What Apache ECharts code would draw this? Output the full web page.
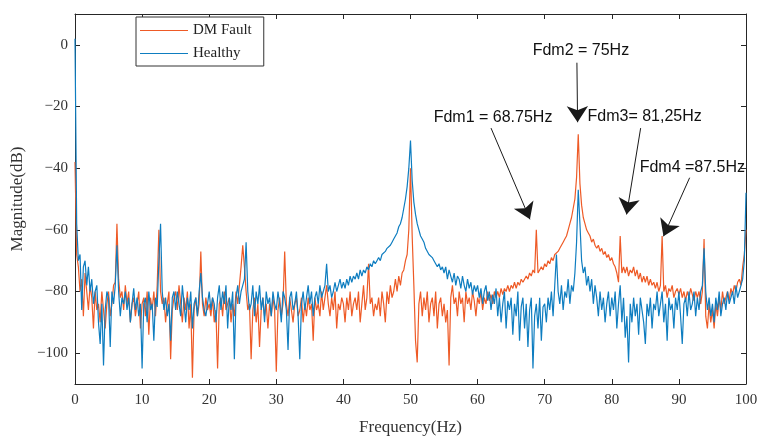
<!DOCTYPE html>
<html>
<head>
<meta charset="utf-8">
<script src="https://cdn.jsdelivr.net/npm/echarts@6/dist/echarts.min.js"></script>
<style>
  html, body { margin: 0; padding: 0; background: #fff; }
  #chart { width: 761px; height: 441px; }
</style>
</head>
<body>
<div id="chart"></div>
<script>
// frequency grid, 0.25 Hz steps from 0 to 100 Hz
var freqStep = 0.25;
var freq = [];
for (var i = 0; i <= 400; i++) freq.push(i * freqStep);

// magnitude (dB), 20 points (5 Hz) per row
var healthy = [
  2, -58, -70, -68, -86, -72, -70, -78, -72, -80, -76, -84, -80, -78, -90, -97, -84, -104, -86, -80,
  -82, -98, -80, -84, -78, -65, -80, -88, -82, -84, -80, -86, -82, -90, -84, -79, -86, -82, -88, -84,
  -105, -84, -82, -90, -80, -86, -84, -96, -82, -85, -70, -58, -80, -86, -82, -88, -84, -96, -82, -80,
  -86, -80, -84, -88, -78, -84, -90, -82, -86, -80, -92, -84, -82, -88, -80, -74, -82, -86, -88, -84,
  -80, -86, -82, -84, -90, -82, -78, -86, -80, -84, -78, -92, -82, -86, -80, -102, -82, -78, -84, -80,
  -78, -76, -64, -80, -86, -84, -78, -88, -80, -84, -78, -86, -82, -90, -80, -84, -82, -88, -80, -84,
  -86, -80, -84, -90, -80, -82, -86, -99, -82, -80, -86, -84, -80, -88, -102, -84, -80, -86, -82, -78,
  -84, -80, -88, -82, -80, -84, -78, -82, -80, -78, -71, -80, -78, -82, -80, -77, -80, -78, -76, -79,
  -77, -79, -76, -78, -75, -77, -75, -76, -74, -76, -73, -75, -73, -74, -72, -73, -71, -72, -70, -71,
  -70, -69, -70, -68, -68, -67, -66, -66, -65, -64, -63, -62, -61, -59, -58, -56, -53, -50, -46, -40,
  -31, -44, -51, -55, -58, -60, -62, -63, -64, -66, -66, -68, -68, -69, -70, -70, -72, -71, -73, -72,
  -74, -72, -76, -73, -75, -77, -74, -78, -75, -76, -79, -75, -78, -80, -76, -79, -77, -81, -78, -80,
  -78, -82, -79, -84, -80, -78, -83, -80, -86, -81, -84, -79, -88, -82, -90, -84, -80, -92, -83, -86,
  -82, -94, -84, -88, -80, -96, -85, -82, -92, -84, -98, -86, -82, -105, -88, -84, -92, -82, -96, -85,
  -84, -90, -82, -86, -80, -88, -78, -68, -80, -84, -78, -86, -80, -82, -76, -84, -78, -80, -74, -64,
  -47, -58, -70, -74, -72, -78, -75, -80, -76, -84, -78, -82, -88, -80, -86, -82, -90, -84, -80, -88,
  -82, -86, -80, -92, -84, -78, -90, -82, -95, -88, -103, -84, -90, -82, -88, -84, -94, -82, -86, -90,
  -97, -84, -88, -82, -92, -84, -86, -80, -88, -84, -80, -90, -84, -96, -82, -86, -84, -92, -82, -86,
  -80, -88, -97, -84, -82, -88, -80, -86, -84, -80, -88, -82, -86, -80, -78, -66, -80, -86, -82, -88,
  -84, -90, -82, -86, -80, -88, -84, -82, -86, -80, -84, -82, -80, -84, -78, -82, -80, -78, -76, -70,
  -48
];

var dmFault = [
  -38, -68, -72, -80, -76, -88, -74, -80, -86, -78, -82, -92, -80, -86, -84, -90, -80, -86, -92, -84,
  -80, -88, -84, -78, -77, -58, -76, -82, -80, -86, -78, -84, -80, -90, -84, -82, -88, -84, -80, -92,
  -84, -82, -88, -80, -94, -82, -86, -80, -88, -78, -60, -80, -84, -82, -90, -84, -80, -102, -86, -82,
  -80, -86, -78, -84, -90, -82, -86, -80, -92, -84, -108, -86, -82, -88, -84, -67, -84, -88, -82, -86,
  -84, -88, -82, -90, -86, -105, -84, -82, -88, -80, -86, -84, -82, -90, -84, -88, -80, -84, -78, -72,
  -65, -72, -80, -86, -84, -102, -86, -82, -90, -84, -98, -86, -82, -88, -84, -92, -84, -88, -82, -86,
  -106, -86, -82, -88, -84, -67, -84, -88, -82, -86, -90, -84, -82, -88, -86, -82, -90, -84, -88, -82,
  -86, -84, -96, -82, -86, -84, -88, -80, -86, -82, -78, -84, -88, -82, -86, -80, -92, -84, -86, -82,
  -84, -90, -82, -86, -80, -88, -84, -82, -86, -80, -90, -84, -78, -86, -82, -71, -84, -82, -88, -84,
  -86, -82, -88, -80, -84, -90, -80, -84, -78, -82, -80, -76, -80, -75, -78, -74, -73, -70, -68, -60,
  -40, -62, -78, -96, -103, -84, -80, -88, -82, -86, -80, -90, -84, -82, -88, -80, -92, -84, -82, -88,
  -84, -90, -86, -104, -82, -78, -84, -82, -88, -80, -84, -82, -90, -80, -84, -82, -86, -80, -83, -88,
  -82, -84, -80, -86, -82, -84, -80, -83, -81, -84, -80, -82, -80, -82, -79, -81, -79, -80, -78, -80,
  -78, -79, -77, -79, -77, -78, -76, -77, -76, -75, -76, -74, -75, -73, -74, -60, -74, -73, -72, -73,
  -71, -72, -70, -71, -69, -70, -68, -68, -67, -66, -65, -64, -63, -62, -60, -58, -56, -53, -50, -43,
  -29, -45, -52, -56, -58, -60, -61, -62, -64, -63, -65, -66, -65, -67, -66, -68, -67, -69, -68, -70,
  -69, -71, -72, -74, -77, -62, -74, -72, -74, -72, -75, -73, -74, -72, -75, -73, -76, -74, -77, -75,
  -77, -75, -78, -76, -78, -77, -79, -77, -80, -78, -62, -80, -78, -82, -79, -80, -78, -82, -80, -79,
  -81, -79, -82, -80, -83, -80, -82, -79, -81, -83, -80, -82, -80, -84, -80, -63, -88, -92, -84, -90,
  -86, -92, -84, -88, -82, -86, -80, -84, -82, -80, -83, -79, -81, -78, -80, -77, -76, -78, -72, -68,
  -60
];

var xTicks = [0, 10, 20, 30, 40, 50, 60, 70, 80, 90, 100];
var yTicks = [-100, -80, -60, -40, -20, 0];

// annotation labels and arrows (data coordinates)
var notes = [
  { text: 'Fdm2 = 75Hz',    at: [75.4, -1.9] },
  { text: 'Fdm1 = 68.75Hz', at: [62.3, -23.5] },
  { text: 'Fdm3= 81,25Hz',  at: [84.9, -23.2] },
  { text: 'Fdm4 =87.5Hz',   at: [92.0, -39.9] }
];
var arrows = [
  [[74.8, -5.8], [74.9, -25.1]],
  [[62.0, -27.0], [67.8, -56.6]],
  [[84.3, -27.0], [82.2, -55.0]],
  [[91.6, -43.1], [87.7, -62.1]]
];

function pairs(xs, ys) {
  var out = [];
  for (var i = 0; i < ys.length; i++) out.push([xs[i], ys[i]]);
  return out;
}

var axisColor = '#262626';
var serif = 'Liberation Serif';
var orange = '#EE5A26';
var blue = '#0E7DC0';

var chart = echarts.init(document.getElementById('chart'));
chart.setOption({
  animation: false,
  backgroundColor: '#fff',
  grid: { left: 75, right: 15, top: 14, bottom: 54 },
  legend: {
    data: [
      { name: 'DM Fault', icon: 'rect', itemStyle: { color: orange } },
      { name: 'Healthy', icon: 'rect', itemStyle: { color: blue } }
    ],
    orient: 'vertical',
    left: 136,
    top: 17,
    itemWidth: 48,
    itemHeight: 1.2,
    itemGap: 8,
    padding: [6, 12, 5, 4],
    borderColor: '#333',
    borderWidth: 1,
    backgroundColor: '#fff',
    textStyle: { fontFamily: serif, fontSize: 15, color: '#222', height: 14 }
  },
  xAxis: [
    {
      type: 'value', min: 0, max: 100, interval: 10,
      name: 'Frequency(Hz)', nameLocation: 'middle', nameGap: 35,
      nameTextStyle: { fontFamily: serif, fontSize: 17, color: '#333' },
      axisLine: { onZero: false, lineStyle: { color: axisColor } },
      axisTick: { inside: true, length: 5, lineStyle: { color: axisColor } },
      axisLabel: { fontFamily: serif, fontSize: 15, color: '#333', margin: 9 },
      splitLine: { show: false }
    },
    {
      type: 'value', min: 0, max: 100, interval: 10, position: 'top',
      axisLine: { onZero: false, lineStyle: { color: axisColor } },
      axisTick: { inside: true, length: 5, lineStyle: { color: axisColor } },
      axisLabel: { show: false },
      splitLine: { show: false }
    }
  ],
  yAxis: [
    {
      type: 'value', min: -110, max: 10,
      name: 'Magnitude(dB)', nameLocation: 'middle', nameGap: 42,
      nameTextStyle: { fontFamily: serif, fontSize: 17, color: '#333' },
      axisLine: { show: true, onZero: false, lineStyle: { color: axisColor } },
      axisTick: { inside: true, length: 5, customValues: yTicks, lineStyle: { color: axisColor } },
      axisLabel: {
        fontFamily: serif, fontSize: 15, color: '#333', margin: 7,
        customValues: yTicks,
        formatter: function (v) { return String(v).replace('-', '\u2212'); }
      },
      splitLine: { show: false }
    },
    {
      type: 'value', min: -110, max: 10, position: 'right',
      axisLine: { show: true, onZero: false, lineStyle: { color: axisColor } },
      axisTick: { inside: true, length: 5, customValues: yTicks, lineStyle: { color: axisColor } },
      axisLabel: { show: false },
      splitLine: { show: false }
    }
  ],
  series: [
    {
      name: 'DM Fault',
      type: 'line',
      data: pairs(freq, dmFault),
      symbol: 'none',
      lineStyle: { color: orange, width: 1.2 },
      itemStyle: { color: orange },
      z: 2
    },
    {
      name: 'Healthy',
      type: 'line',
      data: pairs(freq, healthy),
      symbol: 'none',
      lineStyle: { color: blue, width: 1.2 },
      itemStyle: { color: blue },
      z: 3
    },
    {
      name: 'notes',
      type: 'line',
      data: [],
      z: 5,
      silent: true,
      markLine: {
        silent: true,
        symbol: ['none', 'arrow'],
        symbolSize: 16,
        label: { show: false },
        lineStyle: { color: '#1a1a1a', width: 1, type: 'solid' },
        emphasis: { disabled: true },
        data: arrows.map(function (a) {
          return [{ coord: a[0] }, { coord: a[1] }];
        })
      },
      markPoint: {
        silent: true,
        symbol: 'rect',
        symbolSize: 1,
        itemStyle: { color: 'transparent' },
        label: {
          show: true, position: 'inside',
          fontFamily: 'Liberation Sans', fontSize: 16, color: '#111'
        },
        data: notes.map(function (n) {
          return { coord: n.at, value: n.text, label: { formatter: n.text } };
        })
      }
    }
  ]
});
</script>
</body>
</html>
